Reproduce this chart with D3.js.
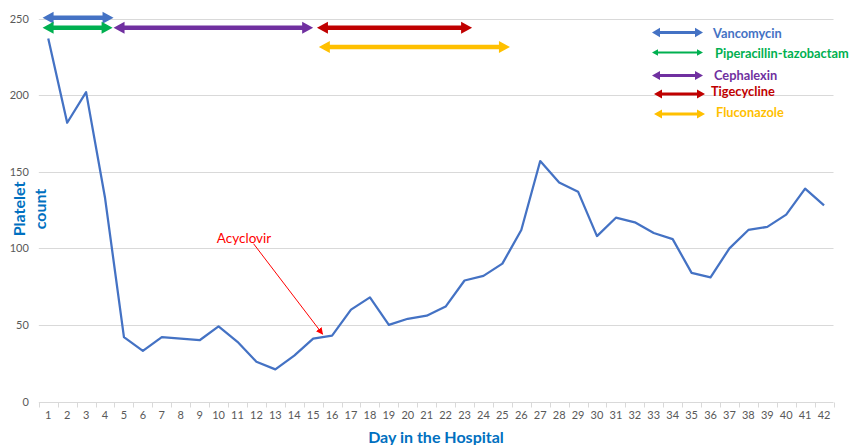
<!DOCTYPE html>
<html>
<head>
<meta charset="utf-8">
<script src="https://cdn.jsdelivr.net/npm/d3@7"></script>
<style>
  html, body { margin: 0; padding: 0; background: #fff; }
  svg { display: block; font-family: Lato, "Open Sans", sans-serif; }
</style>
</head>
<body>
<svg id="chart" width="854" height="445"></svg>
<script>
// Platelet count by hospital day
const days = d3.range(1, 43);
const platelets = [237, 182, 202, 133, 42, 33, 42, 41, 40, 49,
                   39, 26, 21, 30, 41, 43, 60, 68, 50, 54,
                   56, 62, 79, 82, 90, 112, 157, 143, 137, 108,
                   120, 117, 110, 106, 84, 81, 100, 112, 114, 122,
                   139, 128];
const yTicks = [0, 50, 100, 150, 200, 250];

// Drug courses (day spans) and the count level each bar sits at
const drugNames  = ["Vancomycin", "Piperacillin-tazobactam", "Cephalexin", "Tigecycline", "Fluconazole"];
const drugColors = ["#4472C4", "#00B050", "#7030A0", "#C00000", "#FFC000"];
const drugStart  = [0.7, 0.7, 4.45, 15.2, 15.3];
const drugEnd    = [4.45, 4.4, 15.0, 23.4, 25.4];
const drugLevel  = [250.5, 244, 244, 244, 231.5];

// Annotation
const noteText = "Acyclovir";
const noteFrom = [11.85, 103];
const noteTo   = [15.5, 44];

const svg = d3.select("#chart");

const x = d3.scaleLinear().domain([0.5, 42.5]).range([38.8, 833.5]);
const y = d3.scaleLinear().domain([0, 250]).range([401.5, 18.6]);

// Gridlines
svg.append("g")
  .selectAll("line")
  .data(yTicks.filter(t => t > 0))
  .join("line")
  .attr("x1", x(0.5)).attr("x2", x(42.5))
  .attr("y1", d => Math.round(y(d)) + 0.5).attr("y2", d => Math.round(y(d)) + 0.5)
  .attr("stroke", "#d9d9d9").attr("stroke-width", 1);

// Y axis labels
const yAxis = d3.axisLeft(y).tickValues(yTicks).tickSize(0).tickPadding(10);
svg.append("g")
  .attr("transform", `translate(${x(0.5)},0)`)
  .call(yAxis)
  .call(g => g.select(".domain").remove())
  .call(g => g.selectAll("text").attr("fill", "#595959").attr("font-size", 11).attr("font-family", "Lato, sans-serif"));

// X axis: category ticks between days, labels at day centres
const xBase = Math.round(y(0)) + 0.5;
const xg = svg.append("g");
xg.append("line")
  .attr("x1", x(0.5)).attr("x2", x(42.5))
  .attr("y1", xBase).attr("y2", xBase)
  .attr("stroke", "#d9d9d9").attr("stroke-width", 1);
xg.selectAll("line.tick")
  .data(d3.range(0.5, 43, 1))
  .join("line").attr("class", "tick")
  .attr("x1", d => Math.round(x(d)) + 0.5).attr("x2", d => Math.round(x(d)) + 0.5)
  .attr("y1", xBase).attr("y2", xBase + 5)
  .attr("stroke", "#d9d9d9");
xg.selectAll("text")
  .data(days)
  .join("text")
  .attr("x", d => x(d)).attr("y", 419)
  .attr("text-anchor", "middle")
  .attr("fill", "#595959").attr("font-size", 11)
  .text(d => d);

// Axis titles
svg.append("text")
  .attr("x", 436).attr("y", 442.5)
  .attr("text-anchor", "middle")
  .attr("fill", "#0070C0").attr("font-weight", "bold").attr("font-size", 16)
  .text("Day in the Hospital");

const yTitle = svg.append("text")
  .attr("transform", "translate(0,209) rotate(-90)")
  .attr("text-anchor", "middle")
  .attr("fill", "#0070C0").attr("font-weight", "bold").attr("font-size", 16);
yTitle.append("tspan").attr("x", 0).attr("y", 24.5).text("Platelet");
yTitle.append("tspan").attr("x", 0).attr("y", 46).text("count");

// Platelet line
const line = d3.line().x((d, i) => x(days[i])).y(d => y(d));
svg.append("path")
  .datum(platelets)
  .attr("d", line)
  .attr("fill", "none")
  .attr("stroke", "#4472C4")
  .attr("stroke-width", 2.25)
  .attr("stroke-linejoin", "round");

// Double-headed arrow shape
function dblArrow(x1, x2, cy, w, hl, hh) {
  const a = w / 2;
  return `M${x1},${cy} L${x1 + hl},${cy - hh} L${x1 + hl},${cy - a} L${x2 - hl},${cy - a} ` +
         `L${x2 - hl},${cy - hh} L${x2},${cy} L${x2 - hl},${cy + hh} L${x2 - hl},${cy + a} ` +
         `L${x1 + hl},${cy + a} L${x1 + hl},${cy + hh} Z`;
}

// Drug course arrows
svg.append("g")
  .selectAll("path")
  .data(drugNames)
  .join("path")
  .attr("d", (d, i) => dblArrow(x(drugStart[i]), x(drugEnd[i]), y(drugLevel[i]), 4.5, 11, 6))
  .attr("fill", (d, i) => drugColors[i]);

// Legend
const legRows = [32.5, 52.5, 75.5, 94, 114];
const legText = [38.2, 57.7, 80.2, 96.2, 117.2];
const legX1 = [652, 652, 652, 654, 654];
const legX2 = [703, 703, 703, 705, 705];
const legTX = [713, 715, 714, 711, 716];
const legW = [3.2, 2, 3, 3, 3];
const legHH = [4.8, 3.2, 4.5, 4.5, 4.5];
const legHL = [8, 6, 8, 8, 8];
const leg = svg.append("g");
drugNames.forEach((name, i) => {
  leg.append("path")
    .attr("d", dblArrow(legX1[i], legX2[i], legRows[i], legW[i], legHL[i], legHH[i]))
    .attr("fill", drugColors[i]);
  leg.append("text")
    .attr("x", legTX[i]).attr("y", legText[i])
    .attr("fill", drugColors[i])
    .attr("font-weight", "bold").attr("font-size", 12.8)
    .text(name);
});

// Acyclovir annotation
svg.append("defs").append("marker")
  .attr("id", "redhead")
  .attr("viewBox", "0 0 10 10")
  .attr("refX", 9).attr("refY", 5)
  .attr("markerWidth", 7).attr("markerHeight", 7)
  .attr("markerUnits", "userSpaceOnUse")
  .attr("orient", "auto")
  .append("path").attr("d", "M0,0 L10,5 L0,10 Z").attr("fill", "#FF0000");

svg.append("line")
  .attr("x1", x(noteFrom[0])).attr("y1", y(noteFrom[1]))
  .attr("x2", x(noteTo[0])).attr("y2", y(noteTo[1]))
  .attr("stroke", "#FF0000").attr("stroke-width", 1)
  .attr("marker-end", "url(#redhead)");

svg.append("text")
  .attr("x", x(noteFrom[0]) - 9.5).attr("y", y(noteFrom[1]) - 0.5)
  .attr("text-anchor", "middle")
  .attr("fill", "#FF0000").attr("font-size", 13.5)
  .text(noteText);
</script>
</body>
</html>
